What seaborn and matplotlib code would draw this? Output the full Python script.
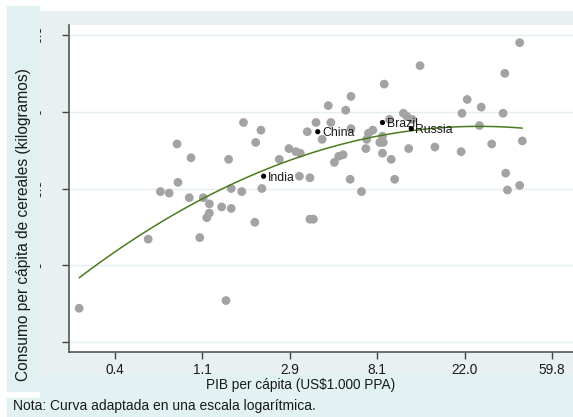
import matplotlib
matplotlib.use("Agg")
import matplotlib.pyplot as plt
from matplotlib.patches import Rectangle
import numpy as np
import pandas as pd
import seaborn as sns

# ---- data (ln GDP per capita in US$, ln kg per capita) ----
gdp_ln = [5.59, 6.38, 6.52, 6.62, 6.71, 6.87, 6.72, 6.85, 7.01, 7.08, 7.22, 7.33, 7.08, 7.05,
          7.60, 8.23, 8.27, 6.97, 7.27, 10.63, 9.49, 10.46, 9.08, 8.70, 10.03, 8.44, 10.19,
          8.64, 9.97, 10.44, 9.30, 9.34, 9.40, 9.14, 8.30, 8.47, 7.47, 10.17, 7.67, 8.70,
          8.20, 8.90, 8.95, 8.37, 9.06, 8.88, 9.07, 9.03, 10.66, 10.31, 7.61, 7.99, 8.07,
          8.12, 8.87, 9.66, 9.36, 9.96, 9.06, 8.61, 8.56, 9.16, 7.88, 7.30, 8.51, 8.11,
          8.23, 8.69, 9.20, 10.47, 10.49, 10.63, 7.33, 7.45, 7.68, 8.82]
cons_ln = [4.72, 5.17, 5.48, 5.47, 5.79, 5.70, 5.54, 5.44, 5.44, 5.40, 5.38, 5.37, 5.34, 5.31,
           5.28, 5.30, 5.30, 5.18, 4.77, 6.45, 6.30, 6.25, 6.18, 6.10, 6.08, 6.04, 6.03,
           6.01, 5.99, 5.99, 5.99, 5.97, 5.95, 5.95, 5.93, 5.93, 5.93, 5.91, 5.88, 5.89,
           5.87, 5.86, 5.88, 5.82, 5.84, 5.82, 5.80, 5.80, 5.81, 5.79, 5.80, 5.76, 5.74,
           5.73, 5.76, 5.77, 5.76, 5.74, 5.73, 5.72, 5.71, 5.69, 5.69, 5.69, 5.67, 5.58,
           5.57, 5.56, 5.56, 5.60, 5.49, 5.52, 5.50, 5.48, 5.50, 5.48]

countries = ["India", "China", "Brazil", "Russia"]
country_gdp_ln = [7.70, 8.32, 9.06, 9.39]
country_cons_ln = [5.58, 5.87, 5.93, 5.89]

x_ticks = [6, 7, 8, 9, 10, 11]
x_ticklabels = ["0.4", "1.1", "2.9", "8.1", "22.0", "59.8"]
y_ticks = [4.5, 5.0, 5.5, 6.0, 6.5]
y_ticklabels = ["4.5", "5", "5.5", "6", "6.5"]

ylabel = "Consumo per cápita de cereales (kilogramos)"
xlabel = "PIB per cápita (US$1.000 PPA)"
note = "Nota: Curva adaptada en una escala logarítmica."

# ---- figure ----
sns.set_style("white")
plt.rcParams["font.family"] = ["Liberation Sans", "DejaVu Sans"]

W, H = 573, 417
fig = plt.figure(figsize=(W / 100, H / 100), dpi=100)
fig.patch.set_facecolor("white")


def frect(x0, y0, x1, y1, color, z):
    r = Rectangle((x0 / W, 1 - y1 / H), (x1 - x0) / W, (y1 - y0) / H,
                  transform=fig.transFigure, facecolor=color, edgecolor="none", zorder=z)
    fig.add_artist(r)


# background bands
frect(38, 11, 573, 374, "#e9f0f2", -5)
frect(40, 374, 573, 398, "#e2f1f2", -5)
frect(7, 398, 573, 417, "#e2f1f2", -5)

ax = fig.add_axes([69 / W, 1 - 352 / H, (573 - 69) / W, (352 - 25) / H])
ax.set_facecolor("white")

main = pd.DataFrame({"x": gdp_ln, "y": cons_ln})
ctry = pd.DataFrame({"x": country_gdp_ln, "y": country_cons_ln, "name": countries})
alld = pd.concat([main, ctry[["x", "y"]]], ignore_index=True)

sns.scatterplot(data=main, x="x", y="y", ax=ax, color="#a3a3a3", s=40,
                edgecolor="none", zorder=3)
sns.regplot(data=alld, x="x", y="y", ax=ax, order=2, ci=None, scatter=False,
            truncate=True, line_kws={"color": "#4b7a1f", "lw": 1.1, "zorder": 4})
sns.scatterplot(data=ctry, x="x", y="y", ax=ax, color="black", s=14,
                edgecolor="none", zorder=5)
for _, r in ctry.iterrows():
    ax.annotate(r["name"], (r["x"], r["y"]), xytext=(3, -1), textcoords="offset points",
                fontsize=8.8, va="center", ha="left", color="#1a1a1a", zorder=6)

ax.set_xlim(5.474, 11.24)
ax.set_ylim(4.435, 6.565)
ax.set_xticks(x_ticks)
ax.set_xticklabels(x_ticklabels, fontsize=9.8, color="#1a1a1a")
ax.set_yticks(y_ticks)
ax.set_yticklabels(y_ticklabels, fontsize=9.8, rotation=90, va="center", color="#1a1a1a")
ax.tick_params(axis="x", length=5, width=1, color="#444444", pad=3, direction="out", bottom=True)
ax.tick_params(axis="y", length=5, width=1, color="#444444", pad=13, direction="out", left=True)
ax.set_xlabel("")
ax.set_ylabel("")
ax.grid(axis="y", color="#e3eef0", lw=1)
ax.grid(axis="x", visible=False)
ax.set_axisbelow(True)
for s in ["top", "right"]:
    ax.spines[s].set_visible(False)
for s in ["left", "bottom"]:
    ax.spines[s].set_color("#555555")
    ax.spines[s].set_linewidth(1.2)

# left y-label band drawn over hidden tick labels
frect(7, 6, 40, 392, "#e1f1f2", 10)
fig.text(24 / W, 1 - 225 / H, ylabel, rotation=90, ha="center", va="center",
         fontsize=11.2, color="#1a1a1a", zorder=11)
fig.text(301 / W, 1 - 385 / H, xlabel, ha="center", va="center",
         fontsize=9.8, color="#1a1a1a", zorder=11)
fig.text(13 / W, 1 - 406 / H, note, ha="left", va="center",
         fontsize=10, color="#1a1a1a", zorder=11)

fig.savefig("out.png", dpi=100)
